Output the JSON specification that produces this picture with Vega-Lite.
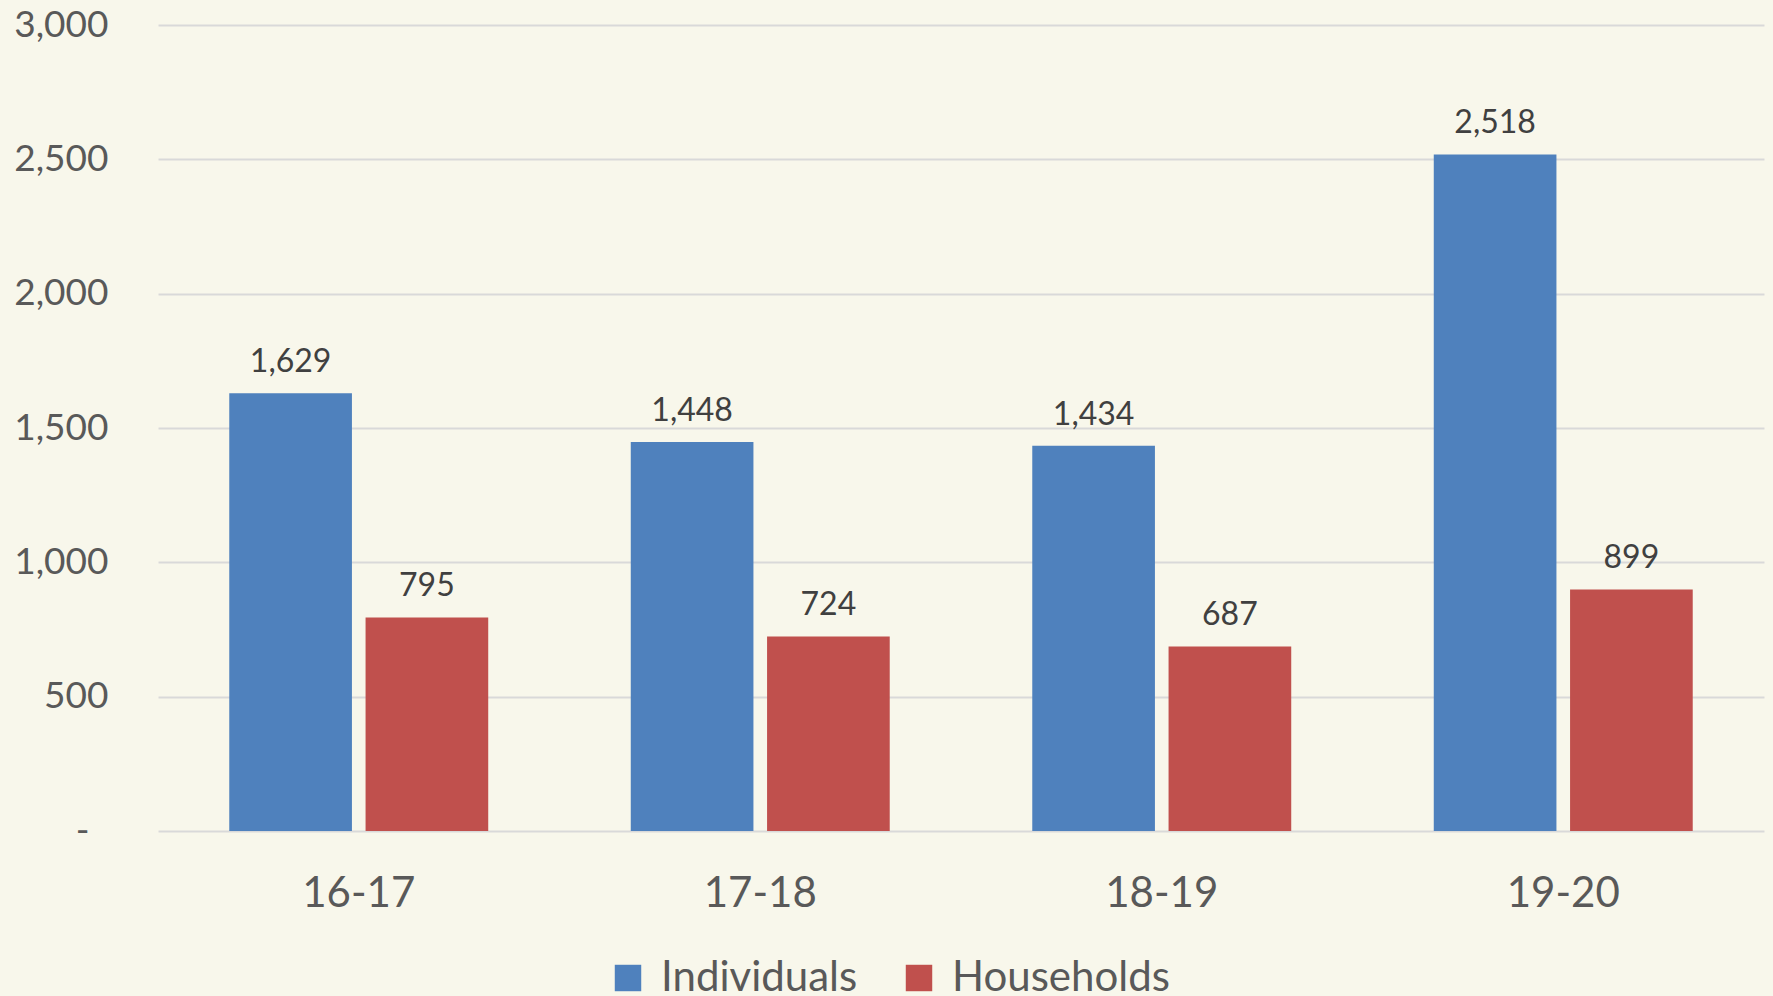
{
  "$schema": "https://vega.github.io/schema/vega-lite/v6.json",
  "autosize": "none",
  "width": 1606,
  "height": 806,
  "padding": {"left": 158, "top": 25, "right": 9, "bottom": 165},
  "background": "#F8F7EB",
  "config": {
    "view": {"stroke": null},
    "font": "Lato"
  },
  "data": {
    "values": [
      {"year": "16-17", "series": "Individuals", "value": 1629},
      {"year": "16-17", "series": "Households", "value": 795},
      {"year": "17-18", "series": "Individuals", "value": 1448},
      {"year": "17-18", "series": "Households", "value": 724},
      {"year": "18-19", "series": "Individuals", "value": 1434},
      {"year": "18-19", "series": "Households", "value": 687},
      {"year": "19-20", "series": "Individuals", "value": 2518},
      {"year": "19-20", "series": "Households", "value": 899}
    ]
  },
  "encoding": {
    "x": {
      "field": "year", "type": "nominal", "sort": null,
      "scale": {"paddingInner": 0.355, "paddingOuter": 0.1775},
      "axis": {
        "title": null, "labelAngle": 0, "domain": false, "ticks": false,
        "labelFontSize": 42, "labelColor": "#595959", "labelPadding": 42, "labelFont": "Lato"
      }
    },
    "xOffset": {
      "field": "series", "type": "nominal", "sort": ["Individuals", "Households"],
      "scale": {"paddingInner": 0.1, "paddingOuter": 0}
    },
    "y": {
      "field": "value", "type": "quantitative",
      "scale": {"domain": [0, 3000], "nice": false},
      "axis": {
        "title": null, "values": [0, 500, 1000, 1500, 2000, 2500, 3000],
        "labelExpr": "datum.value == 0 ? '-' : format(datum.value, ',')",
        "domain": false, "ticks": false, "grid": true, "gridColor": "#D9D9D9", "gridWidth": 2,
        "labelFontSize": 37, "labelColor": "#595959",
        "labelPadding": {"condition": {"test": "datum.value == 0", "value": 69}, "value": 50},
        "labelFont": "Lato"
      }
    }
  },
  "layer": [
    {
      "mark": {"type": "bar", "stroke": null},
      "encoding": {
        "color": {
          "field": "series", "type": "nominal",
          "scale": {"domain": ["Individuals", "Households"], "range": ["#4F81BD", "#C0504D"]},
          "legend": {
            "title": null, "orient": "none", "direction": "horizontal",
            "legendX": 449, "legendY": 932,
            "symbolType": "square", "symbolSize": 700, "symbolStrokeWidth": 0,
            "labelFontSize": 42, "labelColor": "#595959", "labelFont": "Lato", "labelLimit": 0,
            "columnPadding": 40, "labelOffset": 12
          }
        }
      }
    },
    {
      "mark": {"type": "text", "baseline": "alphabetic", "dy": -21, "fontSize": 32, "color": "#404040", "font": "Lato"},
      "encoding": {
        "text": {"field": "value", "type": "quantitative", "format": ","}
      }
    }
  ]
}
